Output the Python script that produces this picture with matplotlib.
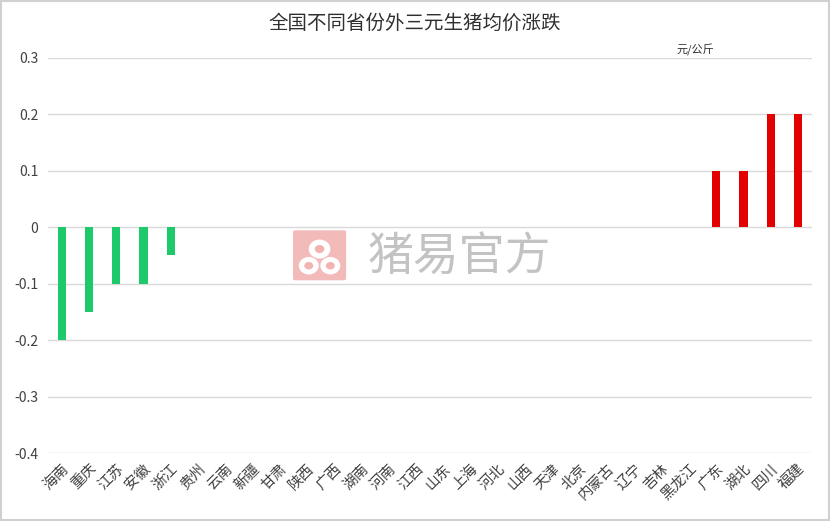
# 全国不同省份外三元生猪均价涨跌
import matplotlib as mpl
import matplotlib.pyplot as plt
from matplotlib.patches import FancyBboxPatch, Ellipse

plt.rcParams['font.family'] = ['Noto Sans CJK SC', 'DejaVu Sans']

provinces = ['海南', '重庆', '江苏', '安徽', '浙江', '贵州', '云南', '新疆', '甘肃', '陕西',
             '广西', '湖南', '河南', '江西', '山东', '上海', '河北', '山西', '天津', '北京',
             '内蒙古', '辽宁', '吉林', '黑龙江', '广东', '湖北', '四川', '福建']
change = [-0.2, -0.15, -0.1, -0.1, -0.05, 0, 0, 0, 0, 0,
          0, 0, 0, 0, 0, 0, 0, 0, 0, 0,
          0, 0, 0, 0, 0.1, 0.1, 0.2, 0.2]
yticks = [-0.4, -0.3, -0.2, -0.1, 0, 0.1, 0.2, 0.3]
ytick_labels = ['-0.4', '-0.3', '-0.2', '-0.1', '0', '0.1', '0.2', '0.3']

colors = ['#1DC96B' if v < 0 else '#E30000' for v in change]

fig = plt.figure(figsize=(8.3, 5.21), dpi=100, facecolor='white')
ax = fig.add_axes([0.058, 0.1305, 0.92, 0.7585])

x = list(range(len(provinces)))
ax.bar(x, change, width=0.3, color=colors, zorder=3)

ax.set_xlim(-0.5, len(provinces) - 0.5)
ax.set_ylim(-0.4, 0.3)
ax.set_yticks(yticks)
ax.set_yticklabels(ytick_labels, fontsize=10, color='#404040')
ax.set_xticks(x)
ax.set_xticklabels(provinces, rotation=45, ha='right', rotation_mode='anchor',
                   fontsize=10.5, color='#404040')
ax.tick_params(axis='both', length=0)
ax.tick_params(axis='y', pad=7)
ax.tick_params(axis='x', pad=6)
for s in ax.spines.values():
    s.set_visible(False)
ax.grid(axis='y', color='#d9d9d9', linewidth=1, zorder=1)

# title and unit
fig.text(0.5, 0.955, '全国不同省份外三元生猪均价涨跌', ha='center', va='center',
         fontsize=14, color='#303030')
fig.text(0.838, 0.905, '元/公斤', ha='center', va='center', fontsize=8, color='#303030')

# watermark
fig.text(0.553, 0.508, '猪易官方', ha='center', va='center', fontsize=33,
         color='#bdbdbd', alpha=0.9, zorder=0)
logo = FancyBboxPatch((0.356, 0.465), 0.058, 0.09, boxstyle='round,pad=0.003',
                      transform=fig.transFigure, facecolor='#f2b3b3', edgecolor='none',
                      alpha=0.9)
fig.patches.append(logo)
for cx, cy, w in [(0.385, 0.522, 0.026), (0.372, 0.49, 0.024), (0.398, 0.49, 0.024)]:
    e = Ellipse((cx, cy), w, w * 1.4, transform=fig.transFigure,
                facecolor='white', edgecolor='none')
    fig.patches.append(e)
    e2 = Ellipse((cx, cy), w * 0.45, w * 0.6, transform=fig.transFigure,
                 facecolor='#f2b3b3', edgecolor='none')
    fig.patches.append(e2)

# border
border = plt.Rectangle((0.001, 0.001), 0.998, 0.997, transform=fig.transFigure,
                       fill=False, edgecolor='#d0d0d0', linewidth=1.5)
fig.patches.append(border)

plt.savefig('out.png', dpi=100)
